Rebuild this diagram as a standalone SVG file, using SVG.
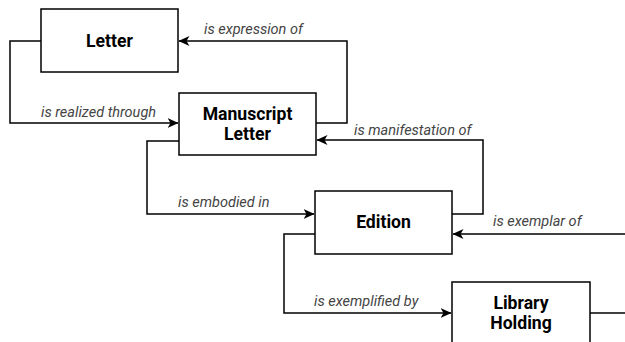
<svg xmlns="http://www.w3.org/2000/svg" width="625" height="342" viewBox="0 0 625 342">
  <defs>
    <marker id="arrow" viewBox="0 0 11 10" refX="10.5" refY="5" markerWidth="11" markerHeight="10" markerUnits="userSpaceOnUse" orient="auto">
      <path d="M0,0 L11,5 L0,10 L3,5 Z" fill="#000"/>
    </marker>
    <style>
      .box { fill: #fff; stroke: #000; stroke-width: 1.5; }
      .name { font-family: Roboto, "Liberation Sans", sans-serif; font-weight: bold; font-size: 17.6px; fill: #000; text-anchor: middle; }
      .edge { fill: none; stroke: #000; stroke-width: 1.5; }
      .edge.arr { marker-end: url(#arrow); }
      .rel { font-family: Roboto, "Liberation Sans", sans-serif; font-style: italic; font-size: 14.5px; fill: #444; }
    </style>
  </defs>
  <rect width="625" height="342" fill="#fff"/>

  <g id="connectors">
    <path class="edge arr" d="M41,41 H10 V123 H178"/>
    <path class="edge arr" d="M316,123 H347 V41 H179"/>
    <path class="edge arr" d="M179,141 H147 V214 H314"/>
    <path class="edge arr" d="M452,214 H483 V140 H317"/>
    <path class="edge arr" d="M625,234 H453"/>
    <path class="edge arr" d="M315,234 H284 V313 H451"/>
    <path class="edge" d="M590,313 H625"/>
    <text class="rel" x="41" y="117">is realized through</text>
    <text class="rel" x="204" y="34">is expression of</text>
    <text class="rel" x="178" y="207">is embodied in</text>
    <text class="rel" x="354" y="135">is manifestation of</text>
    <text class="rel" x="493" y="226">is exemplar of</text>
    <text class="rel" x="314" y="306">is exemplified by</text>
  </g>

  <g id="letter">
    <rect class="box" x="41" y="9" width="137" height="63"/>
    <text class="name" x="109.5" y="47">Letter</text>
  </g>
  <g id="manuscript-letter">
    <rect class="box" x="179" y="93" width="137" height="62"/>
    <text class="name" x="247.5" y="120">Manuscript</text>
    <text class="name" x="247.5" y="140">Letter</text>
  </g>
  <g id="edition">
    <rect class="box" x="315" y="191" width="137" height="63"/>
    <text class="name" x="383.5" y="228">Edition</text>
  </g>
  <g id="library-holding">
    <rect class="box" x="452" y="282" width="138" height="70"/>
    <text class="name" x="521" y="309">Library</text>
    <text class="name" x="521" y="329">Holding</text>
  </g>
</svg>
